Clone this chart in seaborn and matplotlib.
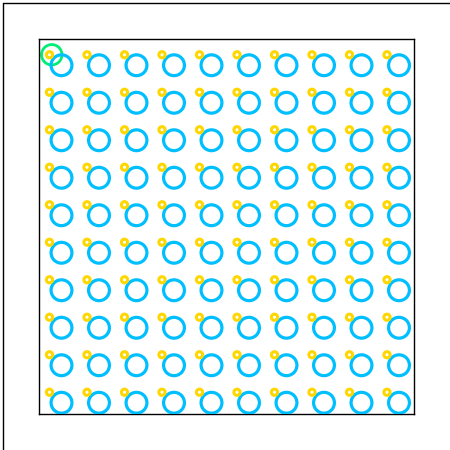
import numpy as np
import matplotlib
matplotlib.use("Agg")
import matplotlib.pyplot as plt
import pandas as pd
import seaborn as sns
from matplotlib.lines import Line2D

# grid positions (axes run 0..10)
ring_cols = [0.6, 1.6, 2.6, 3.6, 4.6, 5.6, 6.6, 7.6, 8.6, 9.6]
ring_rows = [0.3, 1.3, 2.3, 3.3, 4.3, 5.3, 6.3, 7.3, 8.3, 9.3]
dot_cols = [0.28, 1.28, 2.28, 3.28, 4.28, 5.28, 6.28, 7.28, 8.28, 9.28]
dot_rows = [0.58, 1.58, 2.58, 3.58, 4.58, 5.58, 6.58, 7.58, 8.58, 9.58]
marker_x = [0.34]
marker_y = [9.58]

rings = pd.DataFrame([(x, y) for y in ring_rows for x in ring_cols], columns=["x", "y"])
dots = pd.DataFrame([(x, y) for y in dot_rows for x in dot_cols], columns=["x", "y"])
mark = pd.DataFrame({"x": marker_x, "y": marker_y})

sns.set_style("white")
fig = plt.figure(figsize=(4.5, 4.5), dpi=100)

# outer frame lines (left and top)
fig.add_artist(Line2D([2.5 / 450, 2.5 / 450], [0, 1 - 2.5 / 450], color="black", lw=1.0))
fig.add_artist(Line2D([2.5 / 450, 1], [1 - 2.5 / 450, 1 - 2.5 / 450], color="black", lw=1.0))

ax = fig.add_axes([39 / 450, 36 / 450, 375 / 450, 375 / 450])

sns.scatterplot(data=mark, x="x", y="y", ax=ax, s=215, marker="o",
                facecolor="none", edgecolor="#00EE76", linewidth=2.0, zorder=2)
sns.scatterplot(data=rings, x="x", y="y", ax=ax, s=225, marker="o",
                facecolor="none", edgecolor="#00BFFF", linewidth=2.3, zorder=3)
sns.scatterplot(data=dots, x="x", y="y", ax=ax, s=20, marker="o",
                facecolor="none", edgecolor="#FFD700", linewidth=2.2, zorder=4)

ax.set_xlim(0, 10)
ax.set_ylim(0, 10)
ax.set_xticks([])
ax.set_yticks([])
ax.set_xlabel("")
ax.set_ylabel("")
for sp in ax.spines.values():
    sp.set_visible(True)
    sp.set_color("black")
    sp.set_linewidth(1.0)

fig.savefig("out.png", dpi=100)
